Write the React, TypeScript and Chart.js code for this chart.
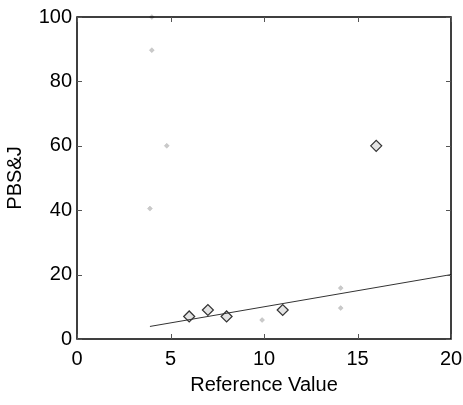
import React, { useEffect, useRef } from "react";
import { Chart, registerables } from "chart.js";

Chart.register(...registerables);

const xTicks = [0, 5, 10, 15, 20];
const yTicks = [0, 20, 40, 60, 80, 100];

// clearly drawn diamonds
const markedX = [6, 7, 8, 11, 16];
const markedY = [7, 9, 7, 9, 60];
// faint marks
const faintX = [4, 4, 4.8, 3.9, 9.9, 14.1, 14.1];
const faintY = [100, 89.7, 60, 40.5, 5.9, 15.8, 9.6];
// reference line
const lineX = [3.9, 20];
const lineY = [3.9, 20];

const boxPlugin = {
  id: "box",
  afterDraw(chart: any) {
    const { ctx, chartArea: a, scales } = chart;
    ctx.save();
    ctx.strokeStyle = "#000";
    ctx.lineWidth = 1.5;
    ctx.strokeRect(a.left, a.top, a.right - a.left, a.bottom - a.top);
    ctx.lineWidth = 1;
    ctx.strokeStyle = "#555";
    ctx.beginPath();
    xTicks.forEach((t) => {
      const px = Math.round(scales.x.getPixelForValue(t)) + 0.5;
      ctx.moveTo(px, a.bottom);
      ctx.lineTo(px, a.bottom - 5);
      ctx.moveTo(px, a.top);
      ctx.lineTo(px, a.top + 5);
    });
    yTicks.forEach((t) => {
      const py = Math.round(scales.y.getPixelForValue(t)) + 0.5;
      ctx.moveTo(a.left, py);
      ctx.lineTo(a.left + 5, py);
      ctx.moveTo(a.right, py);
      ctx.lineTo(a.right - 5, py);
    });
    ctx.stroke();
    ctx.restore();
  },
};

export default function App() {
  const ref = useRef<HTMLCanvasElement>(null);
  useEffect(() => {
    document.body.style.margin = "0";
    const font = { family: "'Liberation Sans', Arial, sans-serif", size: 20 };
    const chart = new Chart(ref.current!, {
      type: "scatter",
      data: {
        datasets: [
          {
            type: "line",
            data: lineX.map((x, i) => ({ x, y: lineY[i] })),
            borderColor: "#333",
            borderWidth: 1,
            pointRadius: 0,
            fill: false,
          } as any,
          {
            data: markedX.map((x, i) => ({ x, y: markedY[i] })),
            pointStyle: "rectRot",
            pointRadius: 5.5,
            backgroundColor: "rgba(210,210,210,0.6)",
            borderColor: "#333",
            borderWidth: 1.2,
          },
          {
            data: faintX.map((x, i) => ({ x, y: faintY[i] })),
            pointStyle: "rectRot",
            pointRadius: 2.5,
            backgroundColor: "rgba(150,150,150,0.5)",
            borderColor: "rgba(150,150,150,0.5)",
            borderWidth: 0.5,
          },
        ],
      },
      options: {
        animation: false,
        responsive: false,
        clip: false as any,
        layout: { padding: { top: 17, right: 12, left: 0, bottom: 0 } },
        plugins: { legend: { display: false }, tooltip: { enabled: false } },
        scales: {
          x: {
            type: "linear",
            min: 0,
            max: 20,
            afterBuildTicks: (s: any) => {
              s.ticks = xTicks.map((v) => ({ value: v }));
            },
            afterFit: (s: any) => {
              s.height = 66;
              s.paddingLeft = 0;
              s.paddingRight = 0;
            },
            border: { display: false },
            grid: { display: false, drawTicks: false },
            ticks: { color: "#000", font, padding: 8 },
            title: { display: true, text: "Reference Value", color: "#000", font, padding: { top: 0, bottom: 8 } },
          },
          y: {
            type: "linear",
            min: 0,
            max: 100,
            afterBuildTicks: (s: any) => {
              s.ticks = yTicks.map((v) => ({ value: v }));
            },
            afterFit: (s: any) => {
              s.width = 77;
              s.paddingTop = 0;
              s.paddingBottom = 0;
            },
            border: { display: false },
            grid: { display: false, drawTicks: false },
            ticks: { color: "#000", font, padding: 5 },
            title: { display: true, text: "PBS&J", color: "#000", font, padding: { top: 3, bottom: 0 } },
          },
        },
      },
      plugins: [boxPlugin],
    });
    return () => chart.destroy();
  }, []);
  return <canvas ref={ref} width={463} height={405} style={{ display: "block" }} />;
}
